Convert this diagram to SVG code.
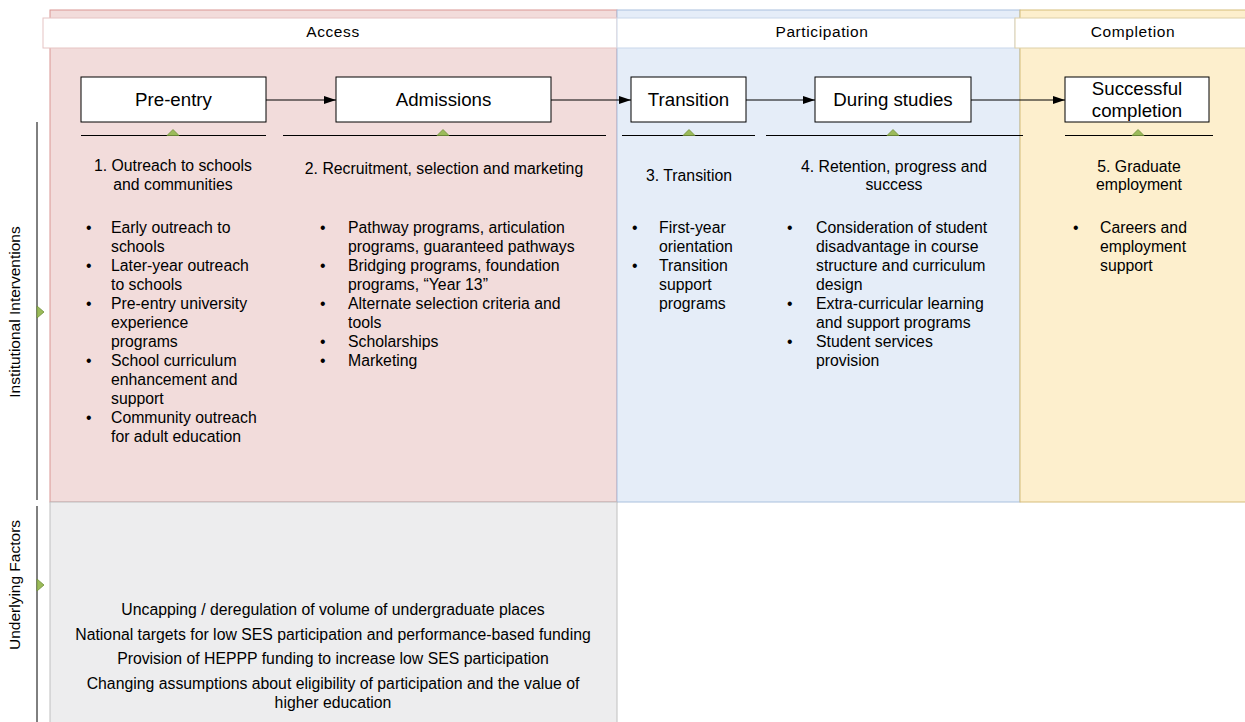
<svg xmlns="http://www.w3.org/2000/svg" width="1245" height="722" viewBox="0 0 1245 722">
<style>
text{font-family:"Liberation Sans",Arial,sans-serif;fill:#000}
.hd{font-size:15.5px;text-anchor:middle;letter-spacing:0.6px}
.nd{font-size:18.7px;text-anchor:middle}
.t{font-size:15.8px}
.c{font-size:15.8px;text-anchor:middle}
.r{font-size:15.5px;text-anchor:middle}
.node{fill:#fff;stroke:#000;stroke-width:1}
.conn{stroke:#000;stroke-width:1;fill:none}
.tri{fill:#9bbb59;stroke:#6f8f3a;stroke-width:0.8}
.base{stroke:#000;stroke-width:1}
</style>
<defs>
<marker id="arr" markerWidth="12" markerHeight="8" refX="12" refY="4" orient="auto" markerUnits="userSpaceOnUse">
<path d="M0,0 L12,4 L0,8 Z" fill="#000"/>
</marker>
</defs>
<rect width="1245" height="722" fill="#fff"/>
<g id="lanes">
<rect x="50" y="10" width="567" height="492" fill="#f2dcdb" stroke="#d99694" stroke-width="1"/>
<rect x="617" y="10" width="403" height="492" fill="#e5edf8" stroke="#a9c0de" stroke-width="1"/>
<rect x="1020" y="10" width="230" height="492" fill="#fdefcd" stroke="#d6bd7b" stroke-width="1"/>
<rect x="50" y="502" width="567" height="225" fill="#ededee" stroke="#c0c0c0" stroke-width="1"/>
</g>
<g id="headers">
<rect x="43" y="18" width="574" height="30" fill="#fff" stroke="#e6c4c3" stroke-width="1"/>
<rect x="617" y="18" width="398" height="30" fill="#fff" stroke="#c9d7ea" stroke-width="1"/>
<rect x="1015" y="18" width="235" height="30" fill="#fff" stroke="#ddd0a8" stroke-width="1"/>
<text class="hd" x="333" y="37">Access</text>
<text class="hd" x="822" y="37">Participation</text>
<text class="hd" x="1133" y="37">Completion</text>
</g>
<g id="side">
<line x1="37" y1="122" x2="37" y2="500" stroke="#000"/>
<line x1="37" y1="506" x2="37" y2="722" stroke="#000"/>
<path d="M37,306 L44,312 L37,318 Z" class="tri"/>
<path d="M37,579 L44,585 L37,591 Z" class="tri"/>
<text class="r" transform="translate(20,312) rotate(-90)">Institutional Interventions</text>
<text class="r" transform="translate(20,585) rotate(-90)">Underlying Factors</text>
</g>
<g id="connectors">
<line class="conn" x1="266" y1="100" x2="336" y2="100" marker-end="url(#arr)"/>
<line class="conn" x1="551" y1="100" x2="631" y2="100" marker-end="url(#arr)"/>
<line class="conn" x1="746" y1="100" x2="815" y2="100" marker-end="url(#arr)"/>
<line class="conn" x1="971" y1="100" x2="1065" y2="100" marker-end="url(#arr)"/>
</g>
<g id="pre-entry">
<rect class="node" x="81" y="77" width="185" height="45"/>
<text class="nd" x="173.5" y="106">Pre-entry</text>
<line class="base" x1="81" y1="135.5" x2="266" y2="135.5"/>
<path class="tri" d="M167,135.5 L173,129.5 L179,135.5 Z"/>
</g>
<g id="admissions">
<rect class="node" x="336" y="77" width="215" height="45"/>
<text class="nd" x="443.5" y="106">Admissions</text>
<line class="base" x1="283" y1="135.5" x2="606" y2="135.5"/>
<path class="tri" d="M437,135.5 L443,129.5 L449,135.5 Z"/>
</g>
<g id="transition">
<rect class="node" x="631" y="77" width="115" height="45"/>
<text class="nd" x="688.5" y="106">Transition</text>
<line class="base" x1="622" y1="135.5" x2="755" y2="135.5"/>
<path class="tri" d="M683,135.5 L689,129.5 L695,135.5 Z"/>
</g>
<g id="during-studies">
<rect class="node" x="815" y="77" width="156" height="45"/>
<text class="nd" x="893" y="106">During studies</text>
<line class="base" x1="766" y1="135.5" x2="1023" y2="135.5"/>
<path class="tri" d="M887,135.5 L893,129.5 L899,135.5 Z"/>
</g>
<g id="successful-completion">
<rect class="node" x="1065" y="77" width="144" height="45"/>
<text class="nd" x="1137" y="95">Successful</text>
<text class="nd" x="1137" y="117">completion</text>
<line class="base" x1="1065" y1="135.5" x2="1213" y2="135.5"/>
<path class="tri" d="M1132,135.5 L1138,129.5 L1144,135.5 Z"/>
</g>
<g id="col1">
<text class="c" x="173" y="171">1. Outreach to schools</text>
<text class="c" x="173" y="190">and communities</text>
<g class="t">
<text x="86" y="233">•</text><text x="111" y="233">Early outreach to</text>
<text x="111" y="252">schools</text>
<text x="86" y="271">•</text><text x="111" y="271">Later-year outreach</text>
<text x="111" y="290">to schools</text>
<text x="86" y="309">•</text><text x="111" y="309">Pre-entry university</text>
<text x="111" y="328">experience</text>
<text x="111" y="347">programs</text>
<text x="86" y="366">•</text><text x="111" y="366">School curriculum</text>
<text x="111" y="385">enhancement and</text>
<text x="111" y="404">support</text>
<text x="86" y="423">•</text><text x="111" y="423">Community outreach</text>
<text x="111" y="442">for adult education</text>
</g>
</g>
<g id="col2">
<text class="c" x="444" y="174">2. Recruitment, selection and marketing</text>
<g class="t">
<text x="320" y="233">•</text><text x="348" y="233">Pathway programs, articulation</text>
<text x="348" y="252">programs, guaranteed pathways</text>
<text x="320" y="271">•</text><text x="348" y="271">Bridging programs, foundation</text>
<text x="348" y="290">programs, “Year 13”</text>
<text x="320" y="309">•</text><text x="348" y="309">Alternate selection criteria and</text>
<text x="348" y="328">tools</text>
<text x="320" y="347">•</text><text x="348" y="347">Scholarships</text>
<text x="320" y="366">•</text><text x="348" y="366">Marketing</text>
</g>
</g>
<g id="col3">
<text class="c" x="689" y="181">3. Transition</text>
<g class="t">
<text x="632" y="233">•</text><text x="659" y="233">First-year</text>
<text x="659" y="252">orientation</text>
<text x="632" y="271">•</text><text x="659" y="271">Transition</text>
<text x="659" y="290">support</text>
<text x="659" y="309">programs</text>
</g>
</g>
<g id="col4">
<text class="c" x="894" y="172">4. Retention, progress and</text>
<text class="c" x="894" y="190">success</text>
<g class="t">
<text x="787" y="233">•</text><text x="816" y="233">Consideration of student</text>
<text x="816" y="252">disadvantage in course</text>
<text x="816" y="271">structure and curriculum</text>
<text x="816" y="290">design</text>
<text x="787" y="309">•</text><text x="816" y="309">Extra-curricular learning</text>
<text x="816" y="328">and support programs</text>
<text x="787" y="347">•</text><text x="816" y="347">Student services</text>
<text x="816" y="366">provision</text>
</g>
</g>
<g id="col5">
<text class="c" x="1139" y="172">5. Graduate</text>
<text class="c" x="1139" y="190">employment</text>
<g class="t">
<text x="1073" y="233">•</text><text x="1100" y="233">Careers and</text>
<text x="1100" y="252">employment</text>
<text x="1100" y="271">support</text>
</g>
</g>
<g id="factors">
<text class="c" x="333" y="615">Uncapping / deregulation of volume of undergraduate places</text>
<text class="c" x="333" y="640">National targets for low SES participation and performance-based funding</text>
<text class="c" x="333" y="664">Provision of HEPPP funding to increase low SES participation</text>
<text class="c" x="333" y="689">Changing assumptions about eligibility of participation and the value of</text>
<text class="c" x="333" y="708">higher education</text>
</g>
</svg>
